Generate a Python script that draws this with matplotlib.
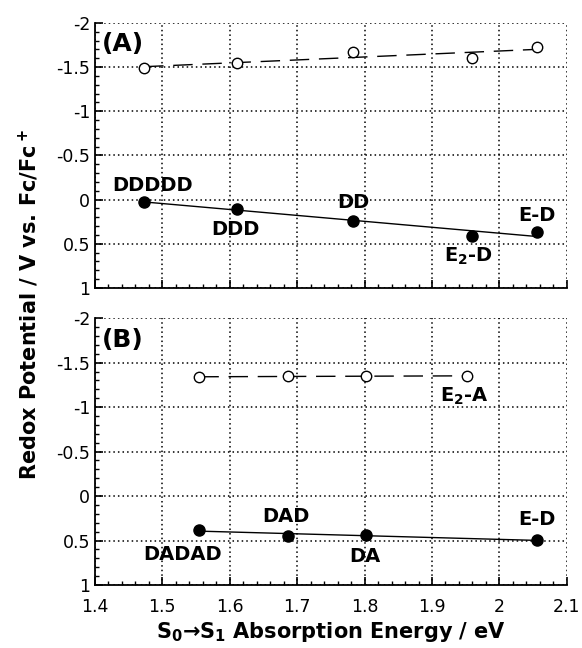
import numpy as np
import matplotlib
matplotlib.use("Agg")
import matplotlib.pyplot as plt
from matplotlib.ticker import MultipleLocator

plt.rcParams['font.family'] = ['DejaVu Sans']
plt.rcParams['axes.unicode_minus'] = False
plt.rcParams['mathtext.fontset'] = 'custom'
plt.rcParams['mathtext.rm'] = 'DejaVu Sans:bold'
plt.rcParams['mathtext.bf'] = 'DejaVu Sans:bold'
plt.rcParams['mathtext.it'] = 'DejaVu Sans:bold'

# ---- data (panel A) ----
a_ox_x = [1.473, 1.611, 1.783, 1.960, 2.055]
a_ox_y = [-1.49, -1.545, -1.675, -1.60, -1.725]
a_red_x = [1.473, 1.611, 1.783, 1.960, 2.055]
a_red_y = [0.025, 0.105, 0.24, 0.41, 0.37]
a_labels = ['DDDDD', 'DDD', 'DD', 'E$_2$-D', 'E-D']

# ---- data (panel B) ----
b_ox_x = [1.555, 1.686, 1.802, 1.952]
b_ox_y = [-1.34, -1.345, -1.35, -1.35]
b_red_x = [1.555, 1.686, 1.802, 2.055]
b_red_y = [0.38, 0.445, 0.44, 0.495]
b_labels = ['DADAD', 'DAD', 'DA', 'E-D']
b_ox_labels = ['', '', '', 'E$_2$-A']

# label offsets (points)
a_offs = [(6, 12), (-1, -15), (0, 13), (-3, -15), (0, 12)]
b_offs = [(-12, -18), (-1, 14), (-1, -15), (0, 15)]
b_ox_offs = [(0, 0), (0, 0), (0, 0), (-2, -15)]

fig = plt.figure(figsize=(5.82, 6.48), dpi=100)
axA = fig.add_axes([0.163, 0.5556, 0.811, 0.409])
axB = fig.add_axes([0.163, 0.0972, 0.811, 0.4118])


def draw_panel(ax, ox_x, ox_y, red_x, red_y):
    # dashed fit through open circles
    p = np.polyfit(ox_x, ox_y, 1)
    xs = np.array([min(ox_x), max(ox_x)])
    ax.plot(xs, np.polyval(p, xs), color='black', lw=1.0, ls=(0, (14, 7)), zorder=2)
    # solid fit through filled circles
    p = np.polyfit(red_x, red_y, 1)
    xs = np.array([min(red_x), max(red_x)])
    ax.plot(xs, np.polyval(p, xs), color='black', lw=1.0, zorder=2)
    ax.plot(ox_x, ox_y, 'o', ms=7.5, mfc='white', mec='black', mew=1.0, zorder=3)
    ax.plot(red_x, red_y, 'o', ms=8, mfc='black', mec='black', zorder=3)

    ax.set_xlim(1.4, 2.1)
    ax.set_ylim(1, -2)
    ax.xaxis.set_major_locator(MultipleLocator(0.1))
    ax.xaxis.set_minor_locator(MultipleLocator(0.02))
    ax.yaxis.set_major_locator(MultipleLocator(0.5))
    ax.yaxis.set_minor_locator(MultipleLocator(0.1))
    ax.yaxis.set_major_formatter(plt.FuncFormatter(lambda v, _: '%g' % v))
    ax.xaxis.set_major_formatter(plt.FuncFormatter(lambda v, _: '%g' % round(v, 1)))
    ax.grid(True, which='major', ls=(0, (1, 2)), color='black', lw=1.1)
    for s in ['top', 'right']:
        ax.spines[s].set_visible(False)
    for s in ['left', 'bottom']:
        ax.spines[s].set_linewidth(1.3)
    ax.tick_params(which='both', direction='in', top=False, right=False, labelsize=12.5)
    ax.tick_params(which='major', length=6, width=1.2)
    ax.tick_params(which='minor', length=3, width=1.0)
    ax.tick_params(axis='x', pad=9)


draw_panel(axA, a_ox_x, a_ox_y, a_red_x, a_red_y)
draw_panel(axB, b_ox_x, b_ox_y, b_red_x, b_red_y)
axA.tick_params(labelbottom=False)

for x, y, t, o in zip(a_red_x, a_red_y, a_labels, a_offs):
    axA.annotate(t, (x, y), xytext=o, textcoords='offset points',
                 ha='center', va='center', fontsize=14, fontweight='bold')
for x, y, t, o in zip(b_red_x, b_red_y, b_labels, b_offs):
    axB.annotate(t, (x, y), xytext=o, textcoords='offset points',
                 ha='center', va='center', fontsize=14, fontweight='bold')
for x, y, t, o in zip(b_ox_x, b_ox_y, b_ox_labels, b_ox_offs):
    if t:
        axB.annotate(t, (x, y), xytext=o, textcoords='offset points',
                     ha='center', va='center', fontsize=14, fontweight='bold')

axA.text(0.015, 0.965, '(A)', transform=axA.transAxes, ha='left', va='top',
         fontsize=18, fontweight='bold')
axB.text(0.015, 0.965, '(B)', transform=axB.transAxes, ha='left', va='top',
         fontsize=18, fontweight='bold')

axB.set_xlabel('S$_0$\u2192S$_1$ Absorption Energy / eV', fontsize=15,
               fontweight='bold', labelpad=3)
fig.text(0.05, 0.53, 'Redox Potential / V vs. Fc/Fc$^+$', rotation=90,
         ha='center', va='center', fontsize=15, fontweight='bold')

fig.savefig('out.png', dpi=100)
